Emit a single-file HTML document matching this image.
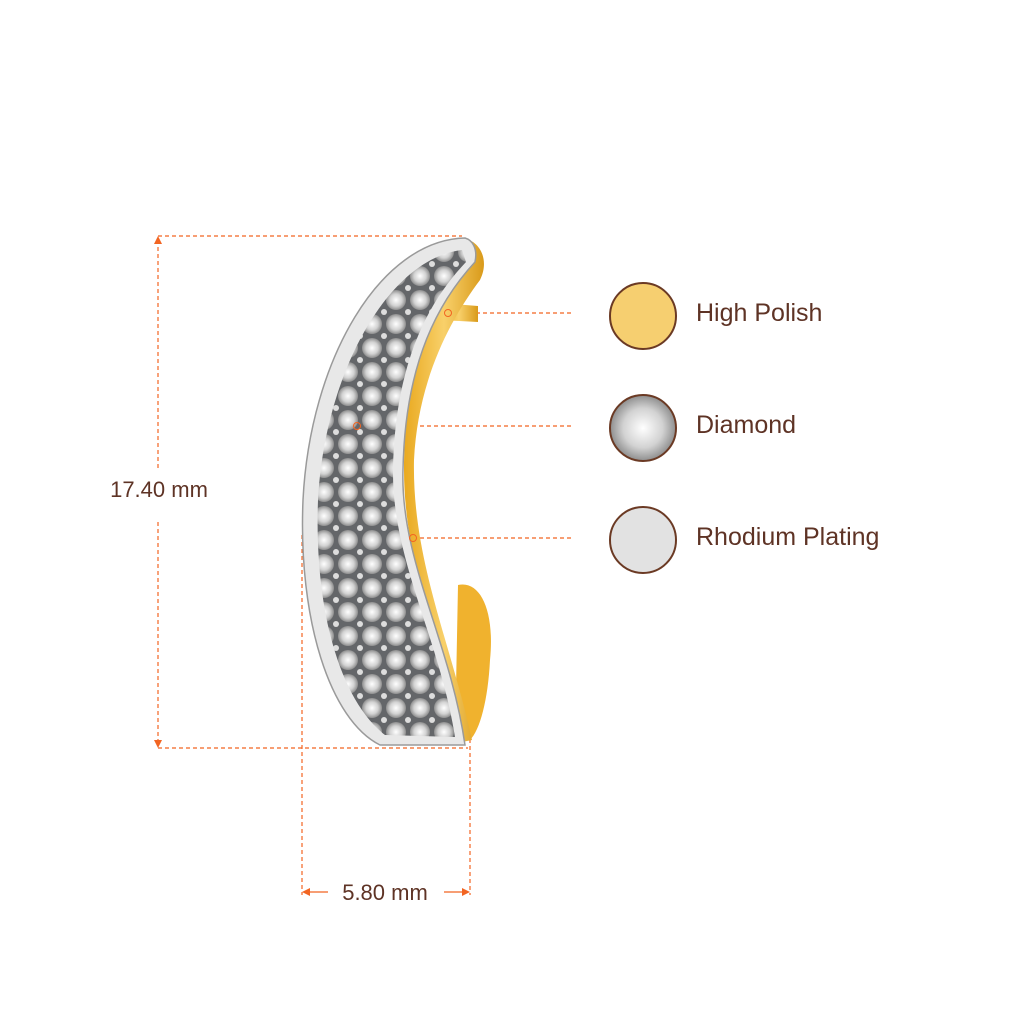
<!DOCTYPE html>
<html><head><style>html,body{margin:0;padding:0;background:#fff}</style></head><body>
<svg width="1024" height="1024" viewBox="0 0 1024 1024" xmlns="http://www.w3.org/2000/svg">
<defs>
<radialGradient id="dia" cx="50%" cy="50%" r="50%"><stop offset="0" stop-color="#fff"/><stop offset="0.6" stop-color="#d2d2d2"/><stop offset="1" stop-color="#8e8e8e"/></radialGradient>
<linearGradient id="gold" x1="0" x2="1"><stop offset="0" stop-color="#e9a91f"/><stop offset="0.5" stop-color="#f8d06a"/><stop offset="1" stop-color="#d99a1a"/></linearGradient>
<pattern id="stones" width="24" height="24" patternUnits="userSpaceOnUse"><rect width="24" height="24" fill="#646669"/><circle cx="12" cy="12" r="10" fill="url(#dia)"/><circle cx="0" cy="0" r="3" fill="#ddd"/><circle cx="24" cy="0" r="3" fill="#ddd"/><circle cx="0" cy="24" r="3" fill="#ddd"/><circle cx="24" cy="24" r="3" fill="#ddd"/></pattern>
</defs>
<g stroke="#f26522" stroke-width="1.2" stroke-dasharray="4,3" fill="none">
<line x1="158" y1="236" x2="462" y2="236"/>
<line x1="158" y1="748" x2="468" y2="748"/>
<line x1="158" y1="240" x2="158" y2="468"/>
<line x1="158" y1="522" x2="158" y2="744"/>
<line x1="302" y1="535" x2="302" y2="895"/>
<line x1="470" y1="725" x2="470" y2="895"/>
<line x1="448" y1="313" x2="574" y2="313"/>
<line x1="357" y1="426" x2="574" y2="426"/>
<line x1="413" y1="538" x2="574" y2="538"/>
</g>
<g stroke="#f26522" stroke-width="1.3" fill="none">
<line x1="304" y1="892" x2="328" y2="892"/>
<line x1="444" y1="892" x2="468" y2="892"/>
</g>
<g fill="#f26522">
<polygon points="158,236 154,244 162,244"/>
<polygon points="158,748 154,740 162,740"/>
<polygon points="302,892 310,888 310,896"/>
<polygon points="470,892 462,888 462,896"/>
</g>
<path d="M440 303 L478 306 L478 322 L440 320 Z" fill="url(#gold)"/>
<path d="M458 585 C480 580 495 610 490 660 C488 700 480 730 470 740 L455 740 Z" fill="#f0b22e"/>
<path d="M462 238 C480 240 490 260 480 280 C450 320 418 380 414 460 C412 560 450 640 472 740 L462 742 C440 650 404 560 404 470 C404 360 440 300 470 262 Z" fill="url(#gold)"/>
<path d="M465 238 C380 240 310 360 303 500 C298 620 330 720 380 745 L465 745 C450 640 400 560 403 470 C405 360 440 300 475 262 C478 248 472 240 465 238 Z" fill="#e8e8e8" stroke="#9a9a9a" stroke-width="1.5"/>
<path d="M462 250 C390 258 325 370 318 500 C314 610 340 700 385 735 L455 737 C440 640 392 560 393 470 C395 360 430 300 466 262 Z" fill="url(#stones)"/>
<circle cx="448" cy="313" r="3.5" fill="none" stroke="#f26522"/>
<circle cx="357" cy="426" r="3.5" fill="none" stroke="#f26522"/>
<circle cx="413" cy="538" r="3.5" fill="none" stroke="#f26522"/>
<circle cx="643" cy="316" r="33" fill="#f6cf70" stroke="#6b3a24" stroke-width="2"/>
<circle cx="643" cy="428" r="33" fill="url(#dia)" stroke="#6b3a24" stroke-width="2"/>
<circle cx="643" cy="540" r="33" fill="#e2e2e2" stroke="#6b3a24" stroke-width="2"/>
<g font-family="Liberation Sans, sans-serif" fill="#5e3325">
<text x="696" y="321" font-size="25">High Polish</text>
<text x="696" y="433" font-size="25">Diamond</text>
<text x="696" y="545" font-size="25">Rhodium Plating</text>
<text x="159" y="497" font-size="22" text-anchor="middle">17.40 mm</text>
<text x="385" y="900" font-size="22" text-anchor="middle">5.80 mm</text>
</g>
</svg>
</body></html>
